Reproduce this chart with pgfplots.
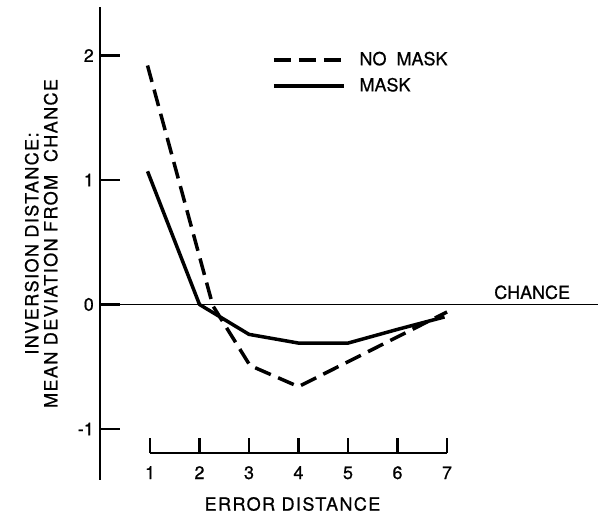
\documentclass[border=0pt]{standalone}
\usepackage{fontspec}
\setmainfont{TeX Gyre Heros}[FakeBold=0.8]
\newfontfamily\spaced{TeX Gyre Heros}[FakeBold=0.8, LetterSpace=8]
\usepackage{pgfplots}
\pgfplotsset{compat=1.18}
\newcommand{\lbl}{\fontsize{18}{19}\selectfont}
\begin{document}
\lbl
\begin{tikzpicture}
\useasboundingbox (-100pt,-40pt) rectangle (498pt,480pt);
% main axis: y axis, chance line and the two curves
\begin{axis}[
  at={(0pt,0pt)}, anchor=south west,
  scale only axis, width=498pt, height=473pt,
  xmin=-0.01, xmax=10.05, ymin=-1.41, ymax=2.39,
  axis x line=none, axis y line*=left,
  ytick={-1,0,1,2},
  tick align=inside, major tick length=20pt,
  y axis line style={line width=2.2pt},
  ytick style={line width=2.2pt, black},
  tick label style={font=\lbl},
  /pgf/number format/assume math mode=true,
  ylabel={INVERSION DISTANCE:\\MEAN DEVIATION FROM\ \ CHANCE},
  ylabel style={font=\spaced\lbl, align=center, at={(axis description cs:-0.118,0.5)}, anchor=center},
  legend style={at={(0.345,0.910)}, anchor=north west, draw=none, fill=none,
    inner sep=0pt, row sep=6pt, font=\lbl,
    /tikz/every odd column/.append style={column sep=12pt}},
  legend cell align=left,
  legend image code/.code={\draw[#1] (0pt,0pt) -- (70pt,0pt);},
  clip=false,
]
\addplot[black, line width=3.5pt, dash pattern=on 17pt off 8pt, line join=round] coordinates {
  (0.95,1.92) (2.27,-0.01) (3.02,-0.49) (4.0,-0.66) (5.0,-0.46) (7.0,-0.06)
};
\addlegendentry{NO\ \ MASK}
\addplot[black, line width=3.5pt, line join=round] coordinates {
  (0.95,1.07) (2.0,0.0) (3.0,-0.24) (4.0,-0.31) (5.0,-0.31) (6.0,-0.2) (6.95,-0.1)
};
\addlegendentry{MASK}
\addplot[black, line width=1.8pt, forget plot] coordinates {(-0.01,0) (10.05,0)};
\node[anchor=base, font=\lbl] at (axis cs:8.72,0.045) {CHANCE};
\end{axis}
% separate error distance axis below
\begin{axis}[
  at={(50pt,27pt)}, anchor=south west,
  scale only axis, width=297pt, height=20pt,
  xmin=1, xmax=7, ymin=0, ymax=1,
  axis x line*=bottom, axis y line=none,
  xtick={1,2,3,4,5,6,7},
  tick align=inside, major tick length=15pt,
  x axis line style={line width=2.2pt},
  xtick style={line width=2.2pt, black},
  tick label style={font=\lbl},
  /pgf/number format/assume math mode=true,
  xticklabel style={anchor=base, yshift=-26pt},
  xlabel={ERROR DISTANCE},
  xlabel style={font=\spaced\lbl, at={(axis description cs:0.5,0)}, anchor=center, yshift=-51pt, xshift=-6pt},
]
\end{axis}
\end{tikzpicture}
\end{document}
